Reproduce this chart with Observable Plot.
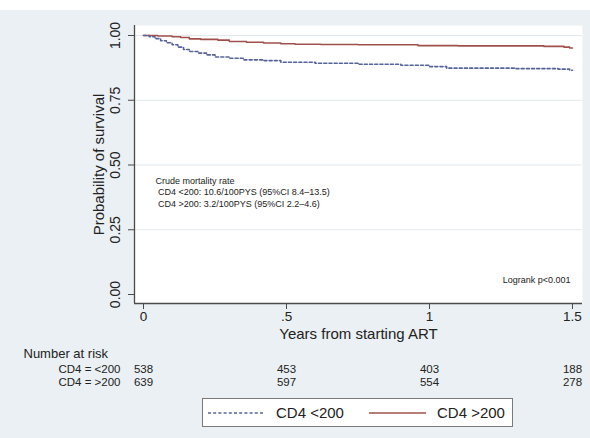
<!DOCTYPE html>
<html>
<head>
<meta charset="utf-8">
<script src="https://cdn.jsdelivr.net/npm/d3@7"></script>
<script src="https://cdn.jsdelivr.net/npm/@observablehq/plot@0.6"></script>
<style>
  html, body { margin: 0; padding: 0; background: #ffffff; }
  body { width: 590px; height: 438px; overflow: hidden; position: relative; font-family: "Liberation Sans", Arial, sans-serif; }
  #wrap { position: absolute; left: 0; top: 10px; width: 590px; height: 428px; background: #eaf0f3; }
  #legend { position: absolute; left: 202px; top: 398px; width: 311px; height: 29px; box-sizing: border-box;
            border: 1px solid #7a7a7a; background: #fff; display: flex; align-items: center; font-size: 15px; color: #222; }
  #legend svg { display: block; }
  #legend .item { display: flex; align-items: center; }
</style>
</head>
<body>
<div id="wrap"></div>
<div id="legend"></div>
<script>
// ---- data ----
const groups = ["CD4 <200", "CD4 >200"];
const xTicks = [0, 0.5, 1, 1.5];
const xTickLabels = ["0", ".5", "1", "1.5"];
const yTicks = [0, 0.25, 0.5, 0.75, 1];
const yTickLabels = ["0.00", "0.25", "0.50", "0.75", "1.00"];
const riskRowLabels = ["CD4 = <200", "CD4 = >200"];
const riskLow = [538, 453, 403, 188];
const riskHigh = [639, 597, 554, 278];

const lowTime = [0, 0.02, 0.04, 0.06, 0.08, 0.10, 0.12, 0.14, 0.16, 0.19, 0.22, 0.25, 0.30, 0.35, 0.42, 0.48, 0.60, 0.75, 0.90, 1.00, 1.06, 1.30, 1.45, 1.49, 1.50];
const lowSurv = [1.000, 0.995, 0.988, 0.980, 0.972, 0.964, 0.955, 0.946, 0.938, 0.932, 0.925, 0.917, 0.912, 0.906, 0.903, 0.897, 0.893, 0.889, 0.885, 0.880, 0.874, 0.872, 0.870, 0.866, 0.866];
const highTime = [0, 0.05, 0.10, 0.13, 0.16, 0.20, 0.26, 0.30, 0.36, 0.42, 0.48, 0.53, 0.62, 0.75, 0.96, 1.10, 1.40, 1.47, 1.49, 1.50];
const highSurv = [1.000, 0.998, 0.995, 0.992, 0.987, 0.985, 0.982, 0.977, 0.974, 0.971, 0.968, 0.966, 0.965, 0.964, 0.961, 0.960, 0.958, 0.955, 0.952, 0.952];

const annotLines = ["Crude mortality rate", " CD4 <200: 10.6/100PYS (95%CI 8.4\u201313.5)", " CD4 >200: 3.2/100PYS (95%CI 2.2\u20134.6)"];
const logrankText = "Logrank p<0.001";
const riskTitle = "Number at risk";
const xLabel = "Years from starting ART";
const yLabel = "Probability of survival";

// ---- build tables ----
const lowData = lowTime.map((t, i) => ({t, s: lowSurv[i], g: groups[0]}));
const highData = highTime.map((t, i) => ({t, s: highSurv[i], g: groups[1]}));
const riskData = [
  ...xTicks.map((t, i) => ({t, n: riskLow[i], row: 0})),
  ...xTicks.map((t, i) => ({t, n: riskHigh[i], row: 1}))
];

const colLow = "#55639a";
const colHigh = "#a0504c";
const axisCol = "#4a4a4a";
const gridCol = "#e2e9ed";
const textCol = "#222";
const xDomain = [-0.0315, 1.535];
const yDomain = [-0.0347, 1.0386];
const rowDy = [66, 79];

const chart = Plot.plot({
  width: 590,
  height: 385,
  marginTop: 15,
  marginLeft: 134,
  marginRight: 8,
  marginBottom: 92,
  style: { background: "#eaf0f3", fontFamily: "'Liberation Sans', Arial, sans-serif", color: textCol, overflow: "visible" },
  x: { domain: xDomain },
  y: { domain: yDomain },
  marks: [
    Plot.frame({ fill: "#ffffff", stroke: null }),
    Plot.ruleY(yTicks.slice(1), { stroke: gridCol, strokeWidth: 1 }),
    Plot.line(highData, { x: "t", y: "s", curve: "step-after", stroke: colHigh, strokeWidth: 1.6 }),
    Plot.line(lowData, { x: "t", y: "s", curve: "step-after", stroke: colLow, strokeWidth: 1.6, strokeDasharray: "3,2.2" }),
    Plot.ruleX([xDomain[0]], { stroke: axisCol, strokeWidth: 1.3 }),
    Plot.ruleY([yDomain[0]], { stroke: axisCol, strokeWidth: 1.3 }),
    Plot.axisY({ ticks: yTicks, tickSize: 6, tickFormat: () => "", label: null, stroke: axisCol }),
    Plot.text(yTicks, { y: d => d, text: d => yTickLabels[yTicks.indexOf(d)], frameAnchor: "left", dx: -19, rotate: -90, textAnchor: "middle", lineAnchor: "middle", fontSize: 14, fill: textCol }),
    Plot.text([yLabel], { frameAnchor: "left", dx: -35, rotate: -90, textAnchor: "middle", lineAnchor: "middle", fontSize: 15, fill: textCol }),
    Plot.axisX({ ticks: xTicks, tickSize: 6, tickPadding: 2, tickFormat: d => xTickLabels[xTicks.indexOf(d)], label: null, fontSize: 13.5, stroke: axisCol, fill: textCol }),
    Plot.text([xLabel], { frameAnchor: "bottom", dy: 31, lineAnchor: "middle", fontSize: 15, fill: textCol }),
    Plot.text([riskTitle], { frameAnchor: "bottom-left", dx: -111, dy: 50, textAnchor: "start", lineAnchor: "middle", fontSize: 13, fill: textCol }),
    Plot.text([riskRowLabels[0]], { frameAnchor: "bottom-left", dx: -14, dy: rowDy[0], textAnchor: "end", lineAnchor: "middle", fontSize: 11.5, fill: textCol }),
    Plot.text([riskRowLabels[1]], { frameAnchor: "bottom-left", dx: -14, dy: rowDy[1], textAnchor: "end", lineAnchor: "middle", fontSize: 11.5, fill: textCol }),
    Plot.text(riskData.filter(d => d.row === 0), { x: "t", text: "n", frameAnchor: "bottom", dy: rowDy[0], lineAnchor: "middle", fontSize: 11.5, fill: textCol }),
    Plot.text(riskData.filter(d => d.row === 1), { x: "t", text: "n", frameAnchor: "bottom", dy: rowDy[1], lineAnchor: "middle", fontSize: 11.5, fill: textCol }),
    Plot.text([annotLines[0]], { frameAnchor: "top-left", dx: 21, dy: 156, textAnchor: "start", lineAnchor: "middle", fontSize: 9, fill: textCol }),
    Plot.text([annotLines[1]], { frameAnchor: "top-left", dx: 21, dy: 167, textAnchor: "start", lineAnchor: "middle", fontSize: 9, fill: textCol }),
    Plot.text([annotLines[2]], { frameAnchor: "top-left", dx: 21, dy: 179, textAnchor: "start", lineAnchor: "middle", fontSize: 9, fill: textCol }),
    Plot.text([logrankText], { frameAnchor: "bottom-right", dx: -12, dy: -23, textAnchor: "end", lineAnchor: "middle", fontSize: 9, fill: textCol })
  ]
});
document.getElementById("wrap").appendChild(chart);

// ---- legend ----
const legend = d3.select("#legend");
const items = [
  { label: groups[0], color: colLow, dash: "3,2.2", ml: 5 },
  { label: groups[1], color: colHigh, dash: null, ml: 25 }
];
items.forEach(it => {
  const item = legend.append("div").attr("class", "item").style("margin-left", it.ml + "px");
  const s = item.append("svg").attr("width", 58).attr("height", 10);
  s.append("line").attr("x1", 0).attr("x2", 57).attr("y1", 5).attr("y2", 5)
    .attr("stroke", it.color).attr("stroke-width", 1.6).attr("stroke-dasharray", it.dash);
  item.append("span").style("margin-left", "10px").text(it.label);
});
</script>
</body>
</html>
